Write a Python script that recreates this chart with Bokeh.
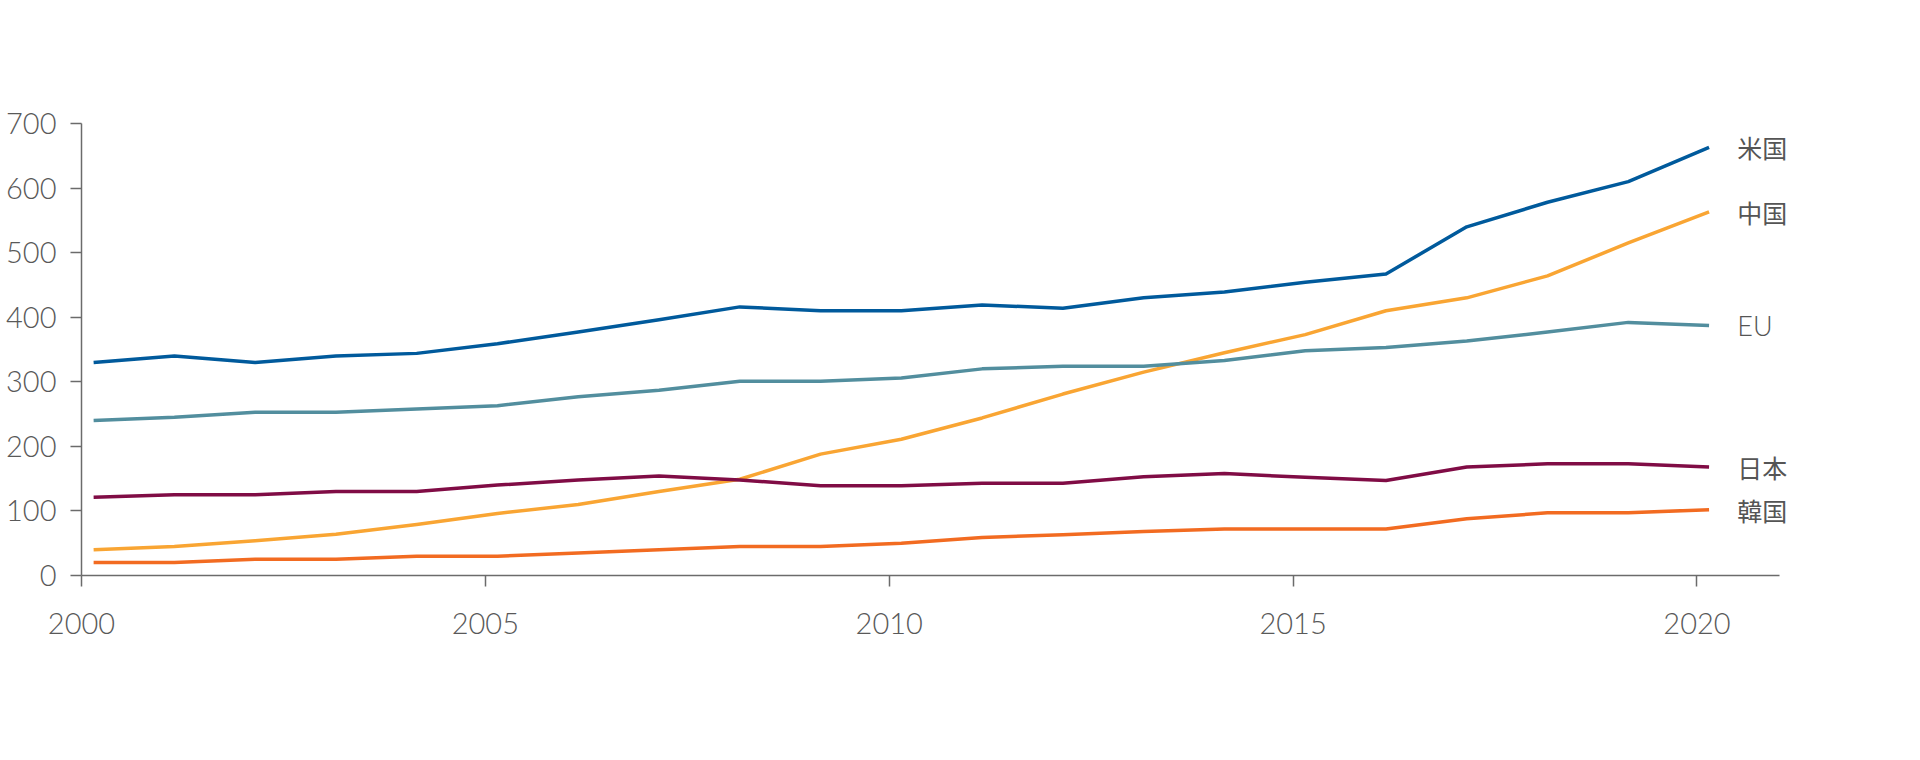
from bokeh.plotting import figure
from bokeh.models import FixedTicker, Range1d, Label, ColumnDataSource
from bokeh.embed import file_html
from bokeh.resources import INLINE

years = list(range(2000, 2021))
us = [330, 340, 330, 340, 344, 359, 377, 396, 416, 410, 410, 419, 414, 430, 439, 454, 467, 540, 578, 610, 663]
eu = [240, 245, 253, 253, 258, 263, 277, 287, 301, 301, 306, 320, 324, 324, 333, 348, 353, 363, 377, 392, 387]
japan = [121, 125, 125, 130, 130, 140, 148, 154, 148, 139, 139, 143, 143, 153, 158, 152, 147, 168, 173, 173, 168]
china = [40, 45, 54, 64, 79, 96, 110, 130, 149, 188, 211, 244, 281, 315, 345, 373, 410, 430, 464, 515, 563]
korea = [20, 20, 25, 25, 30, 30, 35, 40, 45, 45, 50, 59, 63, 68, 72, 72, 72, 88, 97, 97, 102]

series_names = ["米国", "中国", "EU", "日本", "韓国"]
series_values = [us, china, eu, japan, korea]
series_colors = ["#005a9c", "#f9a533", "#528e9e", "#800c45", "#f26b21"]

x_ticks = [2000, 2005, 2010, 2015, 2020]
y_ticks = [0, 100, 200, 300, 400, 500, 600, 700]

X_SHIFT = 0.15
xs = [y + X_SHIFT for y in years]

# frame: 2000..2022 (80.77 px / year); visible x-axis line only up to ~2021
p = figure(width=1904, height=744, output_backend="svg", toolbar_location=None,
           x_range=Range1d(2000, 2022), y_range=Range1d(0, 700),
           min_border_left=81, min_border_right=46, min_border_top=123,
           min_border_bottom=169)
p.outline_line_color = None
p.grid.visible = False
p.background_fill_color = "white"
p.border_fill_color = "white"

for name, vals, col in zip(series_names, series_values, series_colors):
    src = ColumnDataSource(dict(x=xs, y=vals))
    p.line("x", "y", source=src, line_color=col, line_width=3.5, line_join="round")
    latin = name.isascii()
    p.add_layout(Label(x=2020.5, y=vals[-1], text=name, text_baseline="middle",
                       text_align="left",
                       text_font_size="27px" if latin else "25px",
                       text_font="Lato Light" if latin else "Noto Sans CJK JP",
                       text_color="#555555"))

for ax in (p.xaxis[0], p.yaxis[0]):
    ax.axis_line_color = "#6b6b6b"
    ax.axis_line_width = 1.5
    ax.major_tick_line_color = "#6b6b6b"
    ax.major_tick_line_width = 1.5
    ax.major_tick_out = 11
    ax.major_tick_in = 0
    ax.minor_tick_line_color = None
    ax.major_label_text_font = "Lato Light"
    ax.major_label_text_font_size = "29px"
    ax.major_label_text_color = "#595959"

p.xaxis.ticker = FixedTicker(ticks=x_ticks)
p.yaxis.ticker = FixedTicker(ticks=y_ticks)
p.xaxis.bounds = (2000, 2021.02)
p.xaxis.major_label_standoff = 26
p.yaxis.major_label_standoff = 14

open("out.html", "w").write(file_html(p, INLINE))
